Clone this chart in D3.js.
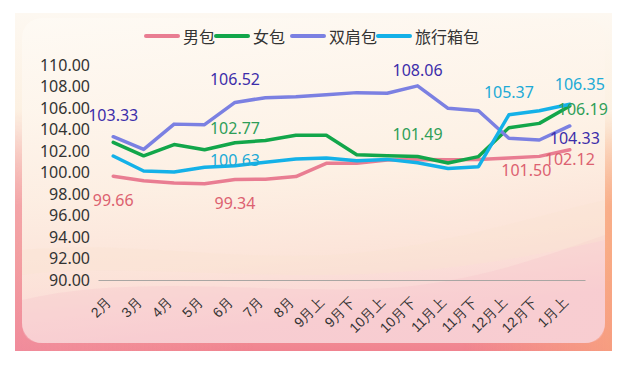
<!DOCTYPE html>
<html>
<head>
<meta charset="utf-8">
<script src="https://cdn.jsdelivr.net/npm/d3@7"></script>
<style>
  html, body { margin: 0; padding: 0; background: #fff; }
  svg { display: block; font-family: "Noto Sans CJK SC", "Noto Sans", sans-serif; }
</style>
</head>
<body>
<svg id="chart"></svg>
<script>
const W = 628, H = 365;

const months = ['2月', '3月', '4月', '5月', '6月', '7月', '8月', '9月上', '9月下',
  '10月上', '10月下', '11月上', '11月下', '12月上', '12月下', '1月上'];

const seriesNames = ['男包', '女包', '双肩包', '旅行箱包'];

const menBag = [99.66, 99.24, 99.02, 98.95, 99.34, 99.38, 99.62, 100.85, 100.85,
  101.16, 101.22, 101.18, 101.22, 101.35, 101.50, 102.12];
const womenBag = [102.80, 101.55, 102.60, 102.12, 102.77, 102.98, 103.46, 103.46, 101.66,
  101.55, 101.49, 100.88, 101.48, 104.17, 104.57, 106.19];
const backpack = [103.33, 102.15, 104.50, 104.45, 106.52, 106.96, 107.05, 107.24, 107.43,
  107.37, 108.06, 105.97, 105.75, 103.18, 103.02, 104.33];
const luggage = [101.53, 100.14, 100.05, 100.48, 100.63, 100.95, 101.26, 101.35, 101.10,
  101.22, 100.90, 100.37, 100.54, 105.37, 105.75, 106.35];

const yTicks = d3.range(90, 110.01, 2);

// which points carry a value label, and where the label sits
const labelSpots = [
  { s: 0, i: 0, dx: 0, dy: 24 }, { s: 0, i: 4, dx: 0, dy: 23 },
  { s: 0, i: 14, dx: -13, dy: 14 }, { s: 0, i: 15, dx: 0, dy: 9 },
  { s: 1, i: 4, dx: 0, dy: -15 }, { s: 1, i: 10, dx: 0, dy: -22 },
  { s: 1, i: 15, dx: 13, dy: 3 },
  { s: 2, i: 0, dx: 0, dy: -22 }, { s: 2, i: 4, dx: 0, dy: -23 },
  { s: 2, i: 10, dx: 0, dy: -16 }, { s: 2, i: 15, dx: 5, dy: 12 },
  { s: 3, i: 4, dx: 0, dy: -6 }, { s: 3, i: 13, dx: 0, dy: -23 },
  { s: 3, i: 15, dx: 10, dy: -20 }
];

const lineColors = ['#e97d92', '#12a64a', '#7b80e2', '#14b1e8'];
const textColors = ['#dc6170', '#2f9e58', '#3c2daa', '#20aad6'];

const series = [menBag, womenBag, backpack, luggage].map((vals, k) => ({
  name: seriesNames[k], values: vals, color: lineColors[k]
}));

const svg = d3.select('#chart').attr('width', W).attr('height', H);

// background
const defs = svg.append('defs');
const outerGrad = defs.append('linearGradient').attr('id', 'outerGrad')
  .attr('x1', 0).attr('y1', 0).attr('x2', 0).attr('y2', 1);
[['0%', '#fdf8f1'], ['35%', '#fcefdf'], ['70%', '#f9c4a6'], ['100%', '#f08390']]
  .forEach(([o, c]) => outerGrad.append('stop').attr('offset', o).attr('stop-color', c));

const sideGrad = defs.append('linearGradient').attr('id', 'sideGrad')
  .attr('x1', 0).attr('y1', 0).attr('x2', 1).attr('y2', 0);
[['0%', '#f08fa0', 0.7], ['40%', '#f6a0a0', 0], ['75%', '#f9a27d', 0], ['100%', '#f8a47c', 0.8]]
  .forEach(([o, c, a]) => sideGrad.append('stop').attr('offset', o).attr('stop-color', c).attr('stop-opacity', a));

const sideFade = defs.append('linearGradient').attr('id', 'sideFade')
  .attr('x1', 0).attr('y1', 0).attr('x2', 0).attr('y2', 1);
[['0%', '#fff', 0], ['40%', '#fff', 1], ['100%', '#fff', 1]]
  .forEach(([o, c, a]) => sideFade.append('stop').attr('offset', o).attr('stop-color', c).attr('stop-opacity', a));
defs.append('mask').attr('id', 'sideMask')
  .append('rect').attr('x', 15).attr('y', 110).attr('width', 597).attr('height', 241)
  .attr('fill', 'url(#sideFade)');

const cardGrad = defs.append('linearGradient').attr('id', 'cardGrad')
  .attr('x1', 0).attr('y1', 0).attr('x2', 0.2).attr('y2', 1);
[['0%', '#fefaf4'], ['55%', '#fdf1e5'], ['80%', '#fce6dc'], ['100%', '#f9d4d8']]
  .forEach(([o, c]) => cardGrad.append('stop').attr('offset', o).attr('stop-color', c));

svg.append('rect').attr('x', 15).attr('y', 13).attr('width', 597).attr('height', 338)
  .attr('fill', 'url(#outerGrad)');
svg.append('rect').attr('x', 15).attr('y', 110).attr('width', 597).attr('height', 241)
  .attr('fill', 'url(#sideGrad)').attr('mask', 'url(#sideMask)');
svg.append('rect').attr('x', 22).attr('y', 18).attr('width', 583).attr('height', 325)
  .attr('rx', 20).attr('fill', 'url(#cardGrad)').attr('opacity', 0.95);

// faint waves inside the card
svg.append('path')
  .attr('d', 'M22,300 C150,270 300,300 420,285 C500,275 560,250 605,235 L605,323 Q605,343 585,343 L42,343 Q22,343 22,323 Z')
  .attr('fill', '#f7c6cc').attr('opacity', 0.35);
svg.append('path')
  .attr('d', 'M22,250 C120,240 220,260 330,255 C430,250 520,220 605,200 L605,240 C520,260 420,275 320,275 C200,275 100,265 22,275 Z')
  .attr('fill', '#fbe3d2').attr('opacity', 0.4);

const x = d3.scaleBand().domain(months).range([98, 585]).padding(0);
const y = d3.scaleLinear().domain([90, 110]).range([280, 65]);
const cx = d => x(d) + x.bandwidth() / 2;

// y axis labels
const yAxis = svg.append('g')
  .attr('transform', 'translate(98,0)')
  .call(d3.axisLeft(y).tickValues(yTicks).tickFormat(d3.format('.2f')).tickSize(0).tickPadding(8));
yAxis.select('.domain').remove();
yAxis.selectAll('text').attr('font-size', 16).attr('fill', '#333')
  .attr('font-family', '"Noto Sans", sans-serif');

// x axis
const xAxis = svg.append('g')
  .attr('transform', 'translate(0,280)')
  .call(d3.axisBottom(x).tickSize(0).tickPadding(0));
xAxis.select('.domain').attr('stroke', '#a9a6a3').attr('stroke-width', 1.2);
xAxis.selectAll('text')
  .attr('font-size', 14).attr('fill', '#333')
  .attr('text-anchor', 'end')
  .attr('dy', 0)
  .attr('transform', 'translate(-1,23) rotate(-45)');

// lines
const line = d3.line().x((d, i) => cx(months[i])).y(d => y(d));
svg.append('g').selectAll('path')
  .data(series)
  .join('path')
  .attr('d', d => line(d.values))
  .attr('fill', 'none')
  .attr('stroke', d => d.color)
  .attr('stroke-width', 3.5)
  .attr('stroke-linejoin', 'round')
  .attr('stroke-linecap', 'round');

// value labels
svg.append('g').selectAll('text')
  .data(labelSpots)
  .join('text')
  .attr('x', d => cx(months[d.i]) + d.dx)
  .attr('y', d => y(series[d.s].values[d.i]) + d.dy)
  .attr('text-anchor', 'middle')
  .attr('dominant-baseline', 'central')
  .attr('font-size', 16)
  .attr('font-family', '"Noto Sans", sans-serif')
  .attr('fill', d => textColors[d.s])
  .text(d => series[d.s].values[d.i].toFixed(2));

// legend
const legendX = [146, 216, 292, 378];
const legend = svg.append('g').selectAll('g')
  .data(series)
  .join('g')
  .attr('transform', (d, k) => `translate(${legendX[k]},36)`);
legend.append('line')
  .attr('x1', 0).attr('x2', 32).attr('y1', 0).attr('y2', 0)
  .attr('stroke', d => d.color).attr('stroke-width', 4).attr('stroke-linecap', 'round');
legend.append('text')
  .attr('x', 37).attr('y', 0)
  .attr('dominant-baseline', 'central')
  .attr('font-size', 16).attr('fill', '#333')
  .text(d => d.name);
</script>
</body>
</html>
